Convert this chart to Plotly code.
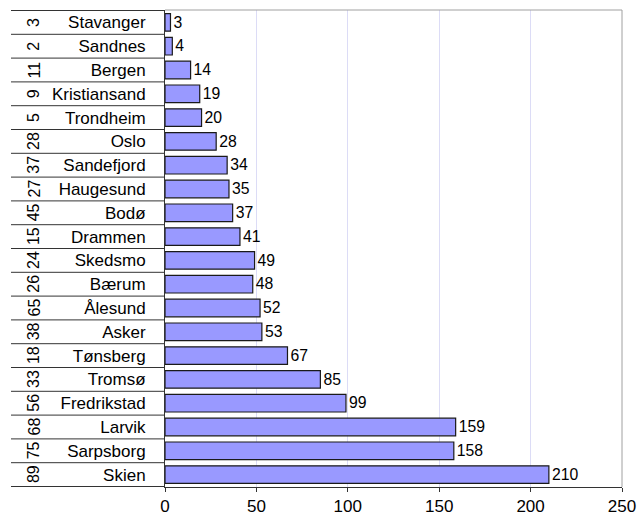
import plotly.graph_objects as go

cities = ["Stavanger", "Sandnes", "Bergen", "Kristiansand", "Trondheim", "Oslo",
          "Sandefjord", "Haugesund", "Bodø", "Drammen", "Skedsmo", "Bærum",
          "Ålesund", "Asker", "Tønsberg", "Tromsø", "Fredrikstad", "Larvik",
          "Sarpsborg", "Skien"]
codes = [3, 2, 11, 9, 5, 28, 37, 27, 45, 15, 24, 26, 65, 38, 18, 33, 56, 68, 75, 89]
values = [3, 4, 14, 19, 20, 28, 34, 35, 37, 41, 49, 48, 52, 53, 67, 85, 99, 159, 158, 210]
x_ticks = [0, 50, 100, 150, 200, 250]

FONT = "Arial, Liberation Sans, sans-serif"
FS = 17

fig = go.Figure(go.Bar(
    x=values, y=cities, orientation="h",
    marker=dict(color="#9999FF", line=dict(color="#1a1a1a", width=1.2)),
    width=0.74,
    text=[str(v) for v in values], textposition="outside",
    textfont=dict(family=FONT, size=FS, color="black"),
    cliponaxis=False,
))

n = len(cities)
L, R, T, B = 165, 16, 10, 30
pw = 638 - L - R
shapes = []
for i in range(n + 1):
    shapes.append(dict(type="line", xref="paper", yref="y", x0=(11 - L) / pw, x1=0,
                       y0=i - 0.5, y1=i - 0.5, line=dict(color="#333333", width=1)))
shapes.append(dict(type="line", xref="paper", yref="paper", x0=0, x1=1, y0=1, y1=1,
                   line=dict(color="#A0A0A0", width=1)))
shapes.append(dict(type="line", xref="paper", yref="paper", x0=1, x1=1, y0=0, y1=1,
                   line=dict(color="#A0A0A0", width=1)))

annotations = []
for c, code in zip(cities, codes):
    annotations.append(dict(x=(23 - L) / pw, xref="paper", y=c, yref="y", text=str(code),
                            textangle=-90, showarrow=False,
                            font=dict(family=FONT, size=16, color="black")))

fig.update_layout(
    width=638, height=517,
    margin=dict(l=L, r=R, t=T, b=B, autoexpand=False),
    paper_bgcolor="white", plot_bgcolor="white",
    showlegend=False,
    font=dict(family=FONT, size=FS, color="black"),
    shapes=shapes, annotations=annotations,
    bargap=0.26,
)
fig.update_xaxes(range=[0, 250], tickvals=x_ticks, ticktext=[str(t) for t in x_ticks],
                 showgrid=True, gridcolor="#DCDCF6", gridwidth=1,
                 showline=True, linecolor="#333333", linewidth=1,
                 ticks="outside", ticklen=4, tickcolor="#333333", automargin=False,
                 zeroline=False, tickfont=dict(family=FONT, size=FS))
fig.update_yaxes(categoryorder="array", categoryarray=cities, autorange="reversed",
                 showline=True, linecolor="#333333", linewidth=1, automargin=False,
                 ticks="", ticklabelstandoff=15, showgrid=False,
                 tickfont=dict(family=FONT, size=FS))

fig.write_html("out.html", config={"displayModeBar": False},
               post_script="document.body.style.margin='0px';document.body.style.overflow='hidden';")
